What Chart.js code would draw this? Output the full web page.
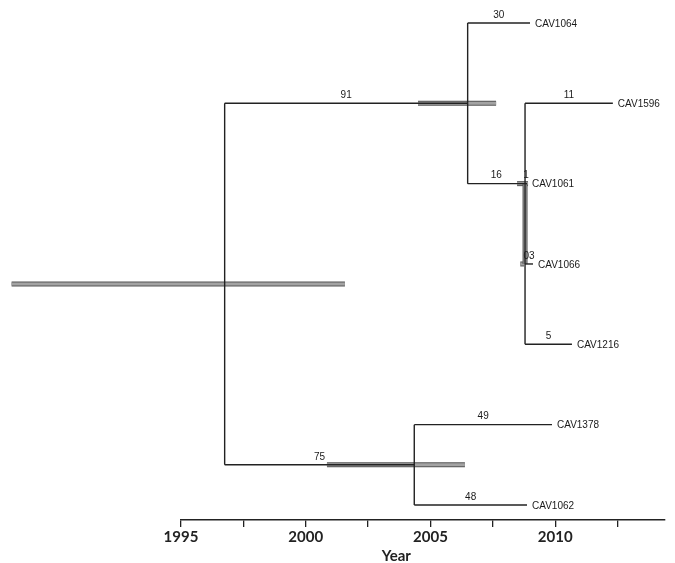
<!DOCTYPE html>
<html>
<head>
  <meta charset="utf-8" />
  <title>Dated tree</title>
  <script src="https://cdn.jsdelivr.net/npm/chart.js@4.4.0/dist/chart.umd.min.js"></script>
  <style>
    body { margin: 0; background: #fff; }
    .chart-container { width: 675px; height: 563px; position: relative; }
  </style>
</head>
<body>
<div class="chart-container">
  <canvas id="treeChart"></canvas>
</div>

<script>
  // tips (years on the time axis, rows top to bottom)
  const tipNames = ['CAV1064', 'CAV1596', 'CAV1061', 'CAV1066', 'CAV1216', 'CAV1378', 'CAV1062'];
  const tipYears = [2008.99, 2012.31, 2008.87, 2009.11, 2010.67, 2009.87, 2008.87];
  const tipRows = [0, 1, 2, 3, 4, 5, 6];

  // internal nodes
  const nodeNames = ['root', 'A', 'B', 'C'];
  const nodeYears = [1996.75, 2006.49, 2008.79, 2004.35];
  const nodeRows = [3.25, 1, 2, 5.5];

  // branches parent -> child with their labels
  const branchFrom = ['root', 'root', 'A', 'A', 'B', 'B', 'B', 'B', 'C', 'C'];
  const branchTo = ['A', 'C', 'CAV1064', 'B', 'CAV1596', 'CAV1061', 'CAV1066', 'CAV1216', 'CAV1378', 'CAV1062'];
  const branchLabels = ['91', '75', '30', '16', '11', '1', '03', '5', '49', '48'];

  // node age intervals (grey bars)
  const hpdLow = [1988.21, 2004.50, 2008.47, 2008.60, 2000.85];
  const hpdHigh = [2001.57, 2007.63, 2008.91, 2008.75, 2006.38];
  const hpdRows = [3.25, 1, 2, 3, 5.5];
  const stemBarYear = 2008.79;
  const stemBarRows = [2, 3];

  const axisMin = 1995, axisMax = 2014.4;
  const axisStep = 2.5;
  const axisTitle = 'Year';

  function place(name) {
    let i = tipNames.indexOf(name);
    if (i >= 0) return { x: tipYears[i], y: tipRows[i] };
    i = nodeNames.indexOf(name);
    return { x: nodeYears[i], y: nodeRows[i] };
  }

  const seg = (pts, color, width) => ({
    data: pts, showLine: true, borderColor: color, borderWidth: width,
    pointRadius: 0, clip: false, borderCapStyle: 'butt'
  });

  const datasets = [];

  // grey interval bars first, dark edge then light fill
  hpdLow.forEach((lo, i) => {
    const pts = [{ x: lo, y: hpdRows[i] }, { x: hpdHigh[i], y: hpdRows[i] }];
    datasets.push(seg(pts, '#555', 5));
    datasets.push(seg(pts, '#a3a3a3', 3));
  });
  const stemPts = [{ x: stemBarYear, y: stemBarRows[0] }, { x: stemBarYear, y: stemBarRows[1] }];
  datasets.push(seg(stemPts, '#555', 5));
  datasets.push(seg(stemPts, '#a3a3a3', 3));

  // horizontal branches
  branchFrom.forEach((p, i) => {
    const a = place(p), b = place(branchTo[i]);
    datasets.push(seg([{ x: a.x, y: b.y }, { x: b.x, y: b.y }], '#222', 1.4));
  });

  // vertical connectors
  nodeNames.forEach(n => {
    const a = place(n);
    const rows = branchFrom.map((p, i) => p === n ? place(branchTo[i]).y : null).filter(v => v !== null);
    datasets.push(seg([{ x: a.x, y: Math.min(...rows) }, { x: a.x, y: Math.max(...rows) }], '#222', 1.4));
  });

  // chart.js paints the first dataset last, so give later ones a lower order
  datasets.forEach((d, i) => { d.order = datasets.length - i; });

  const textPlugin = {
    id: 'treeText',
    afterDatasetsDraw(chart) {
      const ctx = chart.ctx;
      const xs = chart.scales.x, ys = chart.scales.y;
      ctx.save();
      ctx.fillStyle = '#1a1a1a';
      ctx.font = '10px "Liberation Sans", Arial, sans-serif';
      ctx.textBaseline = 'middle';
      ctx.textAlign = 'left';
      tipNames.forEach((name, i) => {
        ctx.fillText(name, xs.getPixelForValue(tipYears[i]) + 5, ys.getPixelForValue(tipRows[i]) + 1);
      });
      ctx.textAlign = 'center';
      branchFrom.forEach((p, i) => {
        const a = place(p), b = place(branchTo[i]);
        const mx = (xs.getPixelForValue(a.x) + xs.getPixelForValue(b.x)) / 2;
        ctx.fillText(branchLabels[i], mx, ys.getPixelForValue(b.y) - 8);
      });
      ctx.font = 'bold 15px Lato, sans-serif';
      ctx.fillStyle = '#222';
      ctx.fillText(axisTitle, xs.getPixelForValue(2003.63), 556);
      ctx.restore();
    }
  };

  const ctx = document.getElementById('treeChart').getContext('2d');
  new Chart(ctx, {
    type: 'scatter',
    data: { datasets },
    options: {
      responsive: true,
      maintainAspectRatio: false,
      animation: false,
      layout: { padding: { left: 181, right: 10, top: 0, bottom: 0 } },
      plugins: { legend: { display: false }, tooltip: { enabled: false } },
      scales: {
        x: {
          type: 'linear',
          min: axisMin,
          max: axisMax,
          afterFit: scale => { scale.height = 43; },
          border: { display: true, color: '#222', width: 1.5 },
          grid: { drawOnChartArea: false, drawTicks: true, tickLength: 7, color: '#222', lineWidth: 1.3 },
          ticks: {
            stepSize: axisStep,
            includeBounds: false,
            autoSkip: false,
            maxRotation: 0,
            padding: 1,
            color: '#222',
            font: { family: 'Lato', size: 15, weight: 'bold' },
            callback: v => (v % 5 === 0 ? String(v) : '')
          }
        },
        y: {
          type: 'linear',
          display: false,
          reverse: true,
          min: -0.286,
          max: 6.187
        }
      }
    },
    plugins: [textPlugin]
  });
</script>

</body>
</html>
